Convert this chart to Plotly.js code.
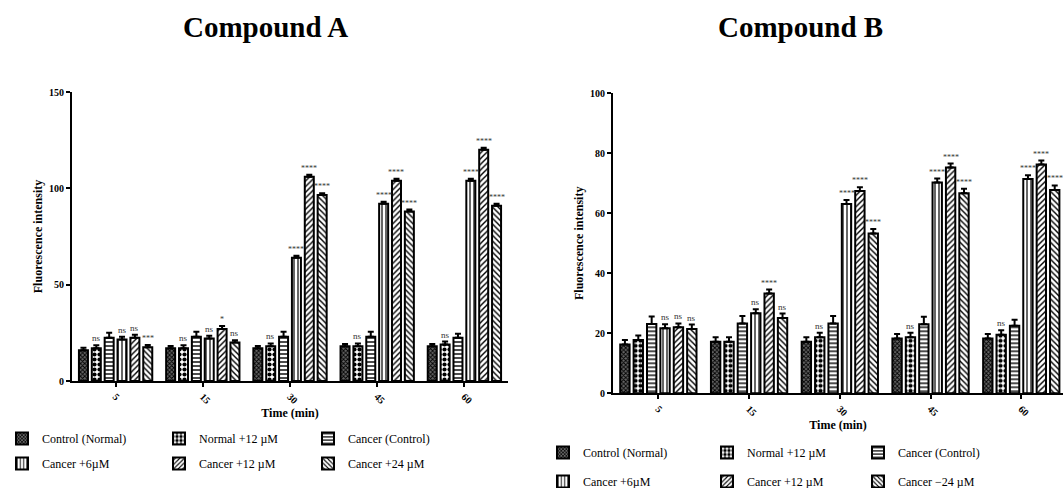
<!DOCTYPE html>
<html>
<head>
<meta charset="utf-8">
<script src="https://cdn.plot.ly/plotly-3.0.1.min.js"></script>
<style>html,body{margin:0;padding:0;background:#fff;}#chart{width:1063px;height:488px;}</style>
</head>
<body>
<div id="chart"></div>
<script>
// ---------- data ----------
const times = ['5', '15', '30', '45', '60'];
const seriesNames = ['Control (Normal)', 'Normal +12 \u00b5M', 'Cancer (Control)', 'Cancer +6\u00b5M', 'Cancer +12 \u00b5M', 'Cancer +24 \u00b5M'];
const seriesNamesB = ['Control (Normal)', 'Normal +12 \u00b5M', 'Cancer (Control)', 'Cancer +6\u00b5M', 'Cancer +12 \u00b5M', 'Cancer \u221224 \u00b5M'];

// Compound A
const a_controlNormal = [16, 17, 17, 18, 18];
const a_normal12      = [17, 17, 18, 18, 19];
const a_cancerControl = [22.5, 23, 23, 23, 22.5];
const a_cancer6       = [21.5, 22, 64, 92, 104];
const a_cancer12      = [22.5, 27, 106, 104, 120];
const a_cancer24      = [17.5, 20, 96.5, 88, 91];
const a_err_controlNormal = [1.2, 1.2, 1.2, 1.2, 1.2];
const a_err_normal12      = [1.5, 1.5, 1.5, 1.5, 1.5];
const a_err_cancerControl = [2.5, 2.5, 2.5, 2.5, 2];
const a_err_cancer6       = [1.5, 1.5, 1, 1, 1];
const a_err_cancer12      = [1.5, 1.5, 1, 1, 1];
const a_err_cancer24      = [1.2, 1.2, 1, 1, 1];
const a_sig_normal12 = ['ns', 'ns', 'ns', 'ns', 'ns'];
const a_sig_cancer6  = ['ns', 'ns', '****', '****', '****'];
const a_sig_cancer12 = ['ns', '*', '****', '****', '****'];
const a_sig_cancer24 = ['***', 'ns', '****', '****', '****'];

// Compound B
const b_controlNormal = [16.3, 17.2, 17.2, 18.3, 18.3];
const b_normal12      = [17.8, 17.2, 18.7, 18.7, 19.5];
const b_cancerControl = [23.1, 23.3, 23.3, 23, 22.5];
const b_cancer6       = [21.7, 26.7, 63.1, 70.3, 71.4];
const b_cancer12      = [22, 33.3, 67.4, 75.3, 76.3];
const b_cancer24      = [21.4, 25.1, 53.3, 66.7, 67.8];
const b_err_controlNormal = [1.5, 1.5, 1.5, 1.5, 1.5];
const b_err_normal12      = [1.5, 1.5, 1.5, 1.5, 1.5];
const b_err_cancerControl = [2.5, 2.5, 2.5, 2.5, 2];
const b_err_cancer6       = [1.3, 1.3, 1.3, 1.3, 1.3];
const b_err_cancer12      = [1.3, 1.3, 1.3, 1.3, 1.3];
const b_err_cancer24      = [1.5, 1.5, 1.5, 1.5, 1.5];
const b_sig_normal12 = ['', '', 'ns', 'ns', 'ns'];
const b_sig_cancer6  = ['ns', 'ns', '****', '****', '****'];
const b_sig_cancer12 = ['ns', '****', '****', '****', '****'];
const b_sig_cancer24 = ['ns', 'ns', '****', '****', '****'];

// ---------- styling ----------
const SERIF = '"Liberation Serif", "Times New Roman", serif';
const patterns = [
  {shape: 'x', fgcolor: '#000', bgcolor: '#666', size: 3, solidity: 0.5},
  {shape: '.', fgcolor: '#000', bgcolor: '#fff', size: 5, solidity: 0.55},
  {shape: '-', fgcolor: '#000', bgcolor: '#fff', size: 4, solidity: 0.35},
  {shape: '|', fgcolor: '#000', bgcolor: '#fff', size: 4, solidity: 0.3},
  {shape: '/', fgcolor: '#000', bgcolor: '#fff', size: 4, solidity: 0.35},
  {shape: '\\', fgcolor: '#000', bgcolor: '#fff', size: 4, solidity: 0.35}
];
const BARGAP = 0.115, BARGROUPGAP = 0.3;

const aVals = [a_controlNormal, a_normal12, a_cancerControl, a_cancer6, a_cancer12, a_cancer24];
const aErrs = [a_err_controlNormal, a_err_normal12, a_err_cancerControl, a_err_cancer6, a_err_cancer12, a_err_cancer24];
const aSigs = [null, a_sig_normal12, null, a_sig_cancer6, a_sig_cancer12, a_sig_cancer24];
const bVals = [b_controlNormal, b_normal12, b_cancerControl, b_cancer6, b_cancer12, b_cancer24];
const bErrs = [b_err_controlNormal, b_err_normal12, b_err_cancerControl, b_err_cancer6, b_err_cancer12, b_err_cancer24];
const bSigs = [null, b_sig_normal12, null, b_sig_cancer6, b_sig_cancer12, b_sig_cancer24];

// legend assignment: column index by series (3 columns per chart)
const colOf = [0, 1, 2, 0, 1, 2];

const traces = [];
function addTraces(vals, errs, names, xa, ya, legendBase) {
  vals.forEach((v, j) => {
    const li = colOf[j] + legendBase;
    traces.push({
      type: 'bar', x: times, y: v, name: names[j],
      xaxis: xa, yaxis: ya,
      legend: li === 1 ? 'legend' : 'legend' + li,
      legendgroup: xa + '_' + j,
      marker: {color: '#fff', line: {color: '#000', width: 2}, pattern: Object.assign({fillmode: 'replace'}, patterns[j])},
      error_y: {type: 'data', symmetric: false, array: errs[j], arrayminus: times.map(() => 0), color: '#000', thickness: 2, width: 3},
      hoverinfo: 'x+y+name'
    });
  });
}
addTraces(aVals, aErrs, seriesNames, 'x', 'y', 1);
addTraces(bVals, bErrs, seriesNamesB, 'x2', 'y2', 4);

// significance annotations positioned from the data and the group layout
const annotations = [];
function addSig(vals, errs, sigs, xref, yref) {
  const n = vals.length, groupW = 1 - BARGAP, slot = groupW / n;
  sigs.forEach((s, j) => {
    if (!s) return;
    s.forEach((label, i) => {
      if (!label) return;
      annotations.push({
        xref: xref, yref: yref, x: i - groupW / 2 + (j + 0.5) * slot, y: vals[j][i] + errs[j][i],
        text: label, showarrow: false, yanchor: 'bottom', yshift: 0,
        font: {family: SERIF, size: label === 'ns' ? 9 : 8, color: '#333'}
      });
    });
  });
}
addSig(aVals, aErrs, aSigs, 'x', 'y');
addSig(bVals, bErrs, bSigs, 'x2', 'y2');

// chart titles
annotations.push({xref: 'paper', yref: 'paper', x: 265 / 1063, y: 1 - 27 / 488, text: 'Compound A', showarrow: false,
  font: {family: SERIF, size: 29, color: '#000', weight: 'bold'}, xanchor: 'center', yanchor: 'middle'});
annotations.push({xref: 'paper', yref: 'paper', x: 800 / 1063, y: 1 - 27 / 488, text: 'Compound B', showarrow: false,
  font: {family: SERIF, size: 29, color: '#000', weight: 'bold'}, xanchor: 'center', yanchor: 'middle'});

const tickFont = {family: SERIF, size: 10, color: '#000', weight: 'bold'};
const axTitleFont = {family: SERIF, size: 12, color: '#000', weight: 'bold'};
function xAxis(domain, range) {
  return {domain: domain, type: 'category', range: range, showline: true, linewidth: 2, linecolor: '#000',
    ticks: 'outside', ticklen: 4, tickwidth: 2, tickcolor: '#000', tickangle: 45, tickfont: tickFont,
    ticklabelstandoff: 0, automargin: false,
    showgrid: false, zeroline: false, title: {text: 'Time (min)', font: axTitleFont, standoff: 2}};
}
function yAxis(domain, range, dtick, anchor) {
  return {domain: domain, range: range, dtick: dtick, anchor: anchor, showline: true, linewidth: 2, linecolor: '#000',
    ticks: 'outside', ticklen: 4, tickwidth: 2, tickcolor: '#000', tickfont: tickFont, automargin: false,
    showgrid: false, zeroline: false, title: {text: 'Fluorescence intensity', font: axTitleFont, standoff: 4}};
}
const legFont = {family: SERIF, size: 12, color: '#000'};
function leg(xpx, ypx, gap) {
  return {x: xpx / 1063, y: 1 - ypx / 488, xanchor: 'left', yanchor: 'top', font: legFont,
    bgcolor: 'rgba(0,0,0,0)', tracegroupgap: gap, orientation: 'v'};
}

const layout = {
  width: 1063, height: 488,
  margin: {l: 0, r: 0, t: 0, b: 0, autoexpand: false},
  paper_bgcolor: '#fff', plot_bgcolor: '#fff',
  barmode: 'group', bargap: BARGAP, bargroupgap: BARGROUPGAP,
  font: {family: SERIF},
  xaxis: Object.assign(xAxis([72 / 1063, 508 / 1063], [-0.5, 4.5]), {anchor: 'y'}),
  yaxis: yAxis([1 - 381 / 488, 1 - 92 / 488], [0, 150], 50, 'x'),
  xaxis2: Object.assign(xAxis([613 / 1063, 1], [-0.5, 4.46]), {anchor: 'y2'}),
  yaxis2: yAxis([1 - 393.3 / 488, 1 - 93.3 / 488], [0, 100], 20, 'x2'),
  legend: leg(2, 424, 6), legend2: leg(159, 424, 6), legend3: leg(308, 424, 6),
  legend4: leg(543, 438, 10), legend5: leg(707, 438, 10), legend6: leg(858, 438, 10),
  annotations: annotations,
  showlegend: true
};

Plotly.newPlot('chart', traces, layout, {displayModeBar: false, staticPlot: true});
</script>
</body>
</html>
